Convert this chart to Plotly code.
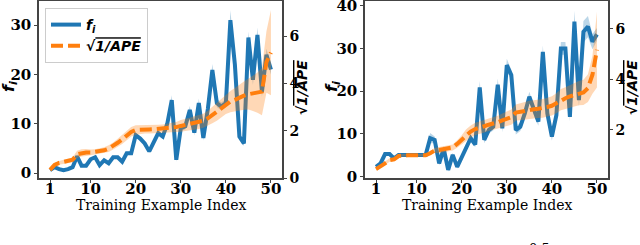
import plotly.graph_objects as go

x_idx = list(range(1, 51))

# Left panel
f_left = [0.6, 1.2, 0.8, 0.6, 0.8, 1.2, 3.4, 1.5, 1.5, 2.8,
          3.2, 1.6, 2.6, 2.0, 3.2, 3.2, 2.3, 4.0, 4.0, 7.7,
          7.0, 6.0, 4.4, 6.4, 8.1, 7.4, 10.0, 14.8, 2.7, 9.1,
          9.5, 12.8, 8.2, 14.2, 7.1, 13.0, 20.9, 14.2, 13.5, 14.2,
          31.0, 22.0, 7.4, 6.0, 27.5, 18.9, 28.0, 16.5, 24.0, 21.0]
f_left_std = [0.2, 0.2, 0.2, 0.2, 0.2, 0.2, 0.4, 0.2, 0.2, 0.3,
              0.3, 0.2, 0.3, 0.2, 0.3, 0.3, 0.2, 0.3, 0.3, 0.5,
              0.4, 0.4, 0.3, 0.4, 0.5, 0.5, 0.6, 1.0, 0.4, 0.6,
              0.6, 0.8, 0.6, 0.9, 0.5, 0.8, 1.2, 0.8, 0.8, 0.8,
              2.0, 1.2, 0.6, 0.5, 1.2, 1.0, 1.5, 1.0, 1.2, 1.0]
ape_left = [0.34, 0.55, 0.64, 0.68, 0.72, 0.77, 1.00, 1.06, 1.08, 1.08,
            1.10, 1.13, 1.17, 1.24, 1.35, 1.49, 1.63, 1.80, 1.95, 2.03,
            2.05, 2.05, 2.05, 2.06, 2.07, 2.08, 2.10, 2.12, 2.15, 2.20,
            2.24, 2.28, 2.33, 2.37, 2.42, 2.52, 2.66, 2.80, 2.98, 3.12,
            3.23, 3.30, 3.40, 3.48, 3.54, 3.58, 3.61, 3.65, 4.90, 5.30]
ape_left_std = [0.08, 0.08, 0.08, 0.08, 0.08, 0.1, 0.15, 0.15, 0.15, 0.12,
                0.12, 0.12, 0.13, 0.14, 0.15, 0.17, 0.19, 0.2, 0.2, 0.2,
                0.18, 0.17, 0.17, 0.17, 0.18, 0.18, 0.2, 0.2, 0.22, 0.25,
                0.25, 0.27, 0.28, 0.3, 0.3, 0.32, 0.35, 0.38, 0.4, 0.42,
                0.45, 0.5, 0.55, 0.6, 0.65, 0.75, 0.85, 1.0, 1.3, 1.8]

# Right panel
f_right = [2.3, 3.1, 5.3, 5.3, 4.3, 5.1, 5.1, 5.1, 5.1, 5.1,
           5.1, 5.1, 9.0, 8.6, 3.1, 6.6, 1.6, 5.1, 2.3, 4.7,
           7.1, 9.0, 7.5, 20.9, 8.6, 10.9, 11.7, 21.5, 11.3, 26.1,
           23.8, 10.9, 11.7, 14.8, 18.7, 15.6, 12.9, 29.2, 14.8, 9.4,
           14.4, 30.0, 30.0, 14.0, 36.3, 17.9, 33.9, 35.1, 31.6, 33.3]
f_right_std = [0.3, 0.3, 0.3, 0.3, 0.3, 0.2, 0.2, 0.2, 0.2, 0.2,
               0.2, 0.2, 1.2, 0.8, 0.5, 0.6, 0.4, 0.5, 0.4, 0.5,
               0.6, 0.7, 0.6, 1.5, 0.8, 0.8, 0.9, 1.5, 0.9, 1.5,
               1.2, 1.0, 1.0, 1.2, 1.2, 1.1, 1.0, 1.5, 1.1, 0.9,
               1.1, 1.5, 1.5, 1.0, 2.5, 1.5, 2.5, 2.5, 1.8, 1.5]
ape_right = [0.44, 0.54, 0.67, 0.80, 0.83, 0.96, 0.99, 0.99, 0.99, 0.99,
             0.99, 0.99, 1.07, 1.18, 1.20, 1.23, 1.25, 1.30, 1.44, 1.60,
             1.80, 1.93, 2.03, 2.07, 2.14, 2.20, 2.24, 2.30, 2.37, 2.43,
             2.50, 2.68, 2.72, 2.76, 2.79, 2.81, 2.83, 2.85, 2.90, 2.95,
             3.05, 3.19, 3.25, 3.32, 3.38, 3.45, 3.48, 3.65, 4.18, 5.17]
ape_right_std = [0.06, 0.06, 0.07, 0.07, 0.07, 0.06, 0.05, 0.05, 0.05, 0.05,
                 0.05, 0.05, 0.08, 0.1, 0.12, 0.12, 0.12, 0.12, 0.15, 0.18,
                 0.22, 0.24, 0.25, 0.25, 0.25, 0.25, 0.25, 0.26, 0.27, 0.28,
                 0.3, 0.32, 0.33, 0.35, 0.36, 0.36, 0.36, 0.37, 0.37, 0.38,
                 0.4, 0.42, 0.43, 0.45, 0.47, 0.48, 0.5, 0.55, 0.75, 1.5]

x_ticks = [1, 10, 20, 30, 40, 50]
x_title = "Training Example Index"

BLUE = "#1f77b4"
ORANGE = "#ff7f0e"
BLUE_FILL = "rgba(31,119,180,0.3)"
ORANGE_FILL = "rgba(255,127,14,0.3)"

fig = go.Figure()


def add_band(xa, ya, vals, std, fill):
    up = [v + s for v, s in zip(vals, std)]
    lo = [v - s for v, s in zip(vals, std)]
    fig.add_trace(go.Scatter(x=x_idx, y=up, xaxis=xa, yaxis=ya, mode="lines",
                             line=dict(width=0), hoverinfo="skip", showlegend=False))
    fig.add_trace(go.Scatter(x=x_idx, y=lo, xaxis=xa, yaxis=ya, mode="lines",
                             line=dict(width=0), fill="tonexty", fillcolor=fill,
                             hoverinfo="skip", showlegend=False))


LBL_F = "<b><i>f<sub>i</sub></i></b>"
LBL_A = "<b><i>\u221a<span style=\"text-decoration:overline\">1/APE</span></i></b>"

LW = 4
DASH = "12px,5px"

# left panel
add_band("x", "y", f_left, f_left_std, BLUE_FILL)
fig.add_trace(go.Scatter(x=x_idx, y=f_left, xaxis="x", yaxis="y", mode="lines",
                         line=dict(color=BLUE, width=LW), name=LBL_F, legendrank=1))
add_band("x", "y2", ape_left, ape_left_std, ORANGE_FILL)
fig.add_trace(go.Scatter(x=x_idx, y=ape_left, xaxis="x", yaxis="y2", mode="lines",
                         line=dict(color=ORANGE, width=LW, dash=DASH), name=LBL_A, legendrank=2))

# right panel
add_band("x2", "y3", f_right, f_right_std, BLUE_FILL)
fig.add_trace(go.Scatter(x=x_idx, y=f_right, xaxis="x2", yaxis="y3", mode="lines",
                         line=dict(color=BLUE, width=LW), showlegend=False))
add_band("x2", "y4", ape_right, ape_right_std, ORANGE_FILL)
fig.add_trace(go.Scatter(x=x_idx, y=ape_right, xaxis="x2", yaxis="y4", mode="lines",
                         line=dict(color=ORANGE, width=LW, dash=DASH), showlegend=False))

TICKFONT = dict(family="DejaVu Serif", size=15, color="black", weight="bold")
RTICKFONT = dict(family="DejaVu Serif", size=14, color="black", weight="bold")
LINEC = "#444"

xcommon = dict(range=[-1.45, 52.45], tickvals=x_ticks, ticks="outside", ticklen=3,
               tickcolor=LINEC, showline=True, linecolor=LINEC, linewidth=1.5, mirror=True,
               showgrid=False, zeroline=False, tickfont=TICKFONT, automargin=False,
               ticklabelstandoff=-7)
ycommon = dict(ticks="outside", ticklen=3, tickcolor=LINEC, showline=True, linecolor=LINEC,
               linewidth=1.5, showgrid=False, zeroline=False, tickfont=TICKFONT, automargin=False,
               ticklabeloverflow="allow")

fig.update_layout(
    width=640, height=245,
    margin=dict(l=0, r=0, t=1, b=67, autoexpand=False),
    plot_bgcolor="white", paper_bgcolor="white",
    xaxis=dict(domain=[39 / 640, 282 / 640], anchor="y", **xcommon),
    xaxis2=dict(domain=[365 / 640, 608 / 640], anchor="y3", **xcommon),
    yaxis=dict(range=[-1.0, 34.9], tickvals=[0, 10, 20, 30], anchor="x", **ycommon),
    yaxis2=dict(range=[0, 7.48], tickvals=[0, 2, 4, 6], overlaying="y", side="right",
                anchor="x", **{**ycommon, "tickfont": RTICKFONT}),
    yaxis3=dict(range=[-0.3, 41.1], tickvals=[0, 10, 20, 30, 40], anchor="x2", **ycommon),
    yaxis4=dict(range=[0.09, 7.1], tickvals=[2, 4, 6], overlaying="y3", side="right",
                anchor="x2", **{**ycommon, "tickfont": RTICKFONT}),
    legend=dict(x=45 / 640, y=(178 - 8) / 177, xanchor="left", yanchor="top",
                bgcolor="rgba(255,255,255,0.85)", bordercolor="#ccc", borderwidth=1,
                font=dict(family="DejaVu Sans", size=14, color="black"),
                traceorder="normal", tracegroupgap=2, itemwidth=30),
    showlegend=True,
)

AFONT = dict(family="DejaVu Sans", size=14, color="black")


def px2paper_y(py):
    return (178 - py) / 177


def note(px, py, text, font, angle=0):
    fig.add_annotation(x=px / 640, y=px2paper_y(py), xref="paper", yref="paper", text=text,
                       textangle=angle, showarrow=False, xanchor="center", yanchor="middle",
                       font=font)


for cx in (160.5, 486.5):
    note(cx, 205, x_title, dict(family="DejaVu Serif", size=14, color="black"))

FF = dict(family="DejaVu Sans", size=16, color="black")
note(9, 87, LBL_F, FF, -90)
note(332, 87, LBL_F, FF, -90)
note(302, 88, LBL_A, AFONT, -90)
note(632, 88, LBL_A, AFONT, -90)
fig.add_annotation(x=527 / 640, y=px2paper_y(239), xref="paper", yref="paper", text="0.5",
                   xanchor="left", yanchor="top", showarrow=False,
                   font=dict(family="DejaVu Serif", size=13, color="black"))

fig.write_html("out.html", config={"displayModeBar": False},
               post_script="document.body.style.margin='0';document.body.style.overflow='hidden';")
